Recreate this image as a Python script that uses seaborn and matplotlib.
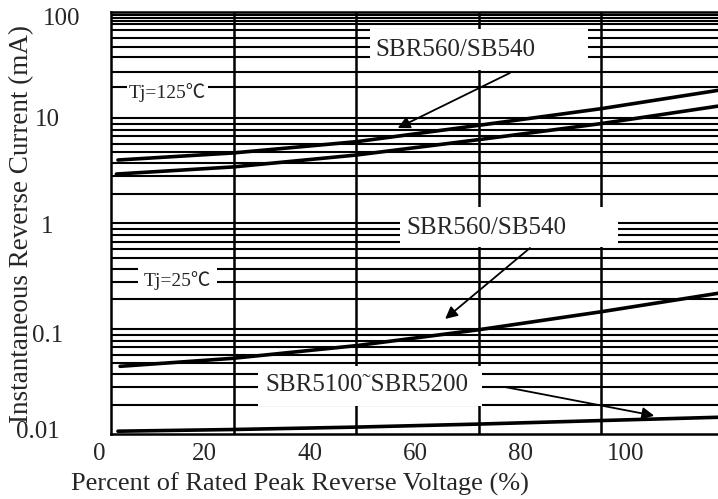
import matplotlib
matplotlib.use("Agg")
import matplotlib.pyplot as plt
import numpy as np
import pandas as pd
import seaborn as sns

# percent of rated peak reverse voltage
pct_125_a = [3.6, 25.4, 48.9, 72.1, 95.3, 117.5]
cur_125_a = [3.98, 4.64, 5.94, 8.49, 12.2, 18.2]
pct_125_b = [3.3, 25.4, 48.9, 72.1, 95.3, 117.5]
cur_125_b = [2.93, 3.42, 4.44, 6.21, 8.81, 12.9]
pct_25_a = [4.0, 25.4, 48.8, 72.1, 95.3, 117.5]
cur_25_a = [0.0441, 0.0525, 0.0692, 0.098, 0.145, 0.217]
pct_25_b = [3.6, 25.4, 48.8, 72.1, 95.3, 117.5]
cur_25_b = [0.0107, 0.0111, 0.0117, 0.0125, 0.0135, 0.0145]

x_ticks = [0, 20, 40, 60, 80, 100]
y_ticks = [100, 10, 1, 0.1, 0.01]
y_tick_labels = ["100", "10", "1", "0.1", "0.01"]

# the scanned chart's grid is not a clean log grid
x_grid = [25.6, 48.8, 72.1, 95.3]
top_decade_grid = [94.3, 88.9, 82.7, 77.0, 68.0, 56.7, 46.6, 37.5, 27.4, 19.7]
minor_factors = [0.88, 0.77, 0.67, 0.57, 0.47, 0.37, 0.28, 0.19]
major_grid = [100, 10, 1, 0.1]

XMIN, XMAX = 2.28, 117.5

sns.set_style("white")
plt.rcParams["font.family"] = ["Liberation Serif", "Noto Sans CJK SC"]

fig = plt.figure(figsize=(7.18, 4.99), dpi=100)
ax = fig.add_axes([111 / 718, 1 - 434.3 / 499, 1 - 111 / 718, (434.3 - 12.3) / 499])
ax.set_yscale("log")
ax.set_xlim(XMIN, XMAX)
ax.set_ylim(0.01, 100)
ax.set_xticks([])
ax.set_yticks([])
ax.yaxis.set_minor_locator(matplotlib.ticker.NullLocator())

h_grid = list(major_grid) + top_decade_grid
for dec in [10, 1, 0.1]:
    h_grid += [dec * f for f in minor_factors]
ax.hlines(h_grid, XMIN, XMAX, color="black", lw=1.5, zorder=1)
ax.vlines(x_grid, 0.01, 100, color="black", lw=1.8, zorder=1)

curves = pd.concat([
    pd.DataFrame({"pct": pct_125_a, "cur": cur_125_a, "curve": "125a"}),
    pd.DataFrame({"pct": pct_125_b, "cur": cur_125_b, "curve": "125b"}),
    pd.DataFrame({"pct": pct_25_a, "cur": cur_25_a, "curve": "25a"}),
    pd.DataFrame({"pct": pct_25_b, "cur": cur_25_b, "curve": "25b"}),
])
for name, grp in curves.groupby("curve"):
    sns.lineplot(data=grp, x="pct", y="cur", color="black", lw=2.6, ax=ax,
                 estimator=None, sort=False, zorder=4)
ax.set_xlabel("")
ax.set_ylabel("")

# white label boxes that blank out the grid
boxes = [(51.4, 92.8, 28.4, 69.5), (57.1, 98.5, 0.595, 1.43), (30.2, 72.7, 0.0185, 0.0444)]
for x0, x1, y0, y1 in boxes:
    ax.fill_between([x0, x1], y0, y1, color="white", lw=0, zorder=2)

ax.text(52.4, 43.9, "SBR560/SB540", fontsize=18, va="center", ha="left", zorder=5)
ax.text(58.3, 0.90, "SBR560/SB540", fontsize=18, va="center", ha="left", zorder=5)
ax.text(31.5, 0.0293, "SBR5100\u02dcSBR5200", fontsize=18, va="center", ha="left", zorder=5)

tj_box = dict(facecolor="white", edgecolor="none", pad=1.5)
ax.text(13.0, 17.2, "Tj=125\u2103", fontsize=14, va="center", ha="center", bbox=tj_box, zorder=3)
ax.text(14.9, 0.284, "Tj=25\u2103", fontsize=14, va="center", ha="center",
        bbox=dict(facecolor="white", edgecolor="none", pad=4), zorder=3)

arrow = dict(arrowstyle="-|>", color="black", lw=1.3, mutation_scale=18, shrinkA=0, shrinkB=0)
ax.annotate("", xy=(56.7, 8.0), xytext=(78.0, 26.6), arrowprops=arrow, zorder=5)
ax.annotate("", xy=(65.7, 0.124), xytext=(81.8, 0.583), arrowprops=arrow, zorder=5)
ax.annotate("", xy=(105.4, 0.0150), xytext=(77.0, 0.0281), arrowprops=arrow, zorder=5)

# tick labels, placed like in the scan
for v in x_ticks:
    ax.annotate(str(v), xy=(v, 0), xycoords=ax.get_xaxis_transform(), xytext=(0, -20),
                textcoords="offset pixels", ha="center", va="center", fontsize=18,
                annotation_clip=False)
y_nudge = [(-31, -7), (-51, -2), (-58, -4), (-48, -7), (-51, 2)]
for v, lab, (dx, dy) in zip(y_ticks, y_tick_labels, y_nudge):
    ax.annotate(lab, xy=(0, v), xycoords=ax.get_yaxis_transform(), xytext=(dx, dy),
                textcoords="offset pixels", ha="right", va="center", fontsize=18,
                annotation_clip=False)

for side in ["left", "bottom", "top"]:
    ax.spines[side].set_color("black")
    ax.spines[side].set_linewidth(1.8)
ax.spines["right"].set_visible(False)

fig.text(22 / 718, 1 - 224 / 499, "Instantaneous Reverse Current (mA)", rotation=90,
         ha="center", va="center", fontsize=19.5)
fig.text(300 / 718, 1 - 484 / 499, "Percent of Rated Peak Reverse Voltage (%)",
         ha="center", va="center", fontsize=19)

fig.savefig("out.png", dpi=100)
